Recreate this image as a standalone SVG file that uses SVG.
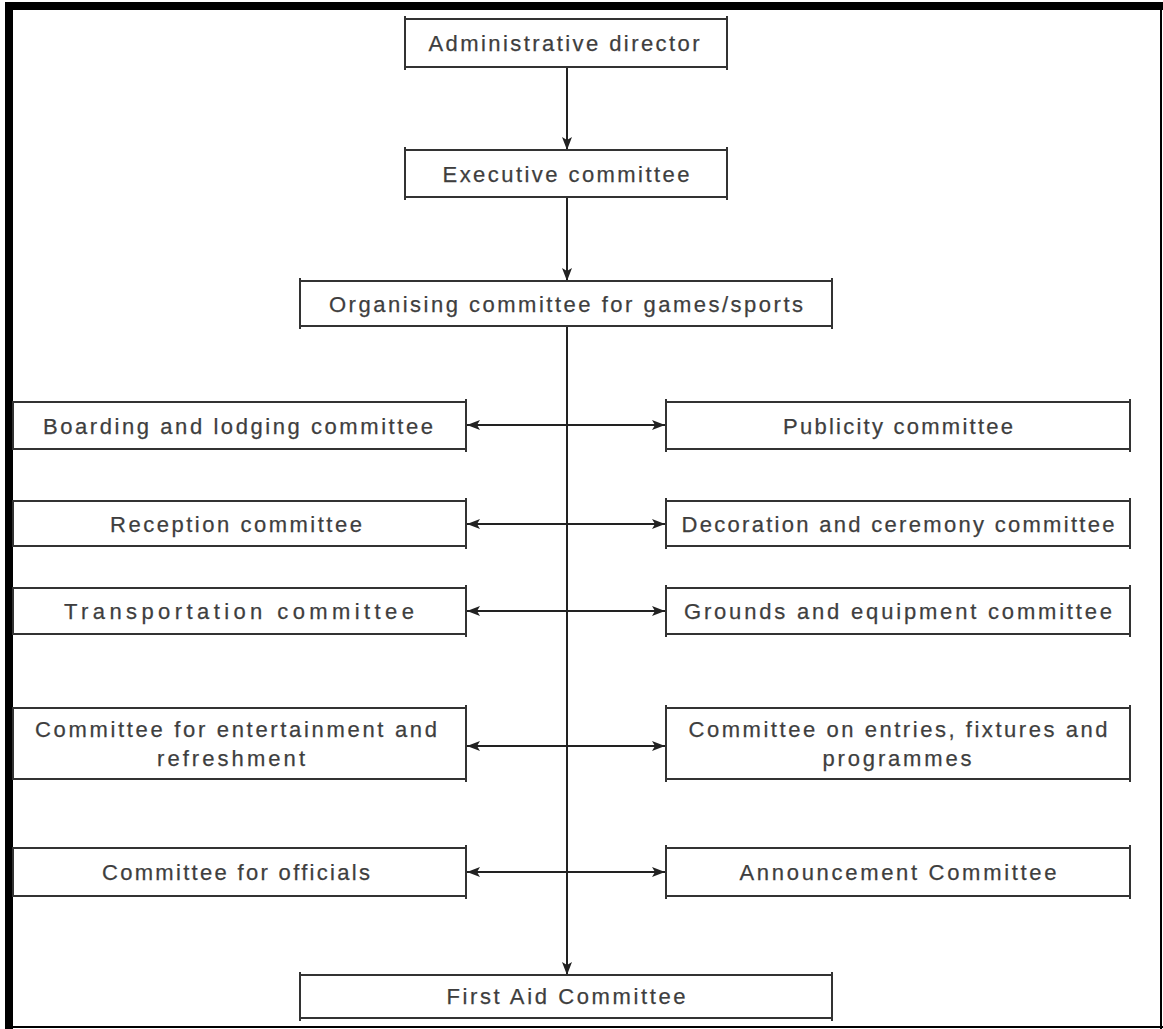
<svg xmlns="http://www.w3.org/2000/svg" width="1163" height="1029" viewBox="0 0 1163 1029">
<style>
.box{fill:#fff;stroke:#333;stroke-width:2}
.tk{fill:none;stroke:#333;stroke-width:2}
.t{font-family:"Liberation Sans",Arial,sans-serif;font-size:22px;fill:#3e3e3e;stroke:#3e3e3e;stroke-width:0.25;text-anchor:middle}
.con{stroke:#222;stroke-width:2;fill:none}
</style>
<defs>
<marker id="ah" viewBox="0 0 13 10" refX="13" refY="5" markerWidth="13" markerHeight="10" markerUnits="userSpaceOnUse" orient="auto-start-reverse">
<path d="M0,0 L13,5 L0,10 L3,5 Z" fill="#222"/>
</marker>
</defs>
<rect width="1163" height="1029" fill="#fff"/>
<g id="frame">
<rect x="5" y="2" width="1158" height="8" fill="#000"/>
<rect x="5" y="2" width="8" height="1027" fill="#000"/>
<rect x="1160" y="2" width="2" height="1027" fill="#000"/>
<rect x="5" y="1026" width="1158" height="2" fill="#000"/>
</g>
<g id="connectors">
<line class="con" x1="567" y1="67" x2="567" y2="150" marker-end="url(#ah)"/>
<line class="con" x1="567" y1="197" x2="567" y2="281" marker-end="url(#ah)"/>
<line class="con" x1="567" y1="326" x2="567" y2="975" marker-end="url(#ah)"/>
<line class="con" x1="467" y1="425" x2="665" y2="425" marker-start="url(#ah)" marker-end="url(#ah)"/>
<line class="con" x1="467" y1="524" x2="665" y2="524" marker-start="url(#ah)" marker-end="url(#ah)"/>
<line class="con" x1="467" y1="611" x2="665" y2="611" marker-start="url(#ah)" marker-end="url(#ah)"/>
<line class="con" x1="467" y1="746" x2="665" y2="746" marker-start="url(#ah)" marker-end="url(#ah)"/>
<line class="con" x1="467" y1="872" x2="665" y2="872" marker-start="url(#ah)" marker-end="url(#ah)"/>
</g>
<g id="admin-director">
<rect class="box" x="405" y="19" width="322" height="48"/>
<path class="tk" d="M405,16V70M727,16V70"/>
<text class="t" x="564" y="51" textLength="271" lengthAdjust="spacing">Administrative director</text>
</g>
<g id="executive-committee">
<rect class="box" x="405" y="150" width="322" height="47"/>
<path class="tk" d="M405,147V200M727,147V200"/>
<text class="t" x="566" y="182" textLength="247" lengthAdjust="spacing">Executive committee</text>
</g>
<g id="organising-committee">
<rect class="box" x="300" y="281" width="532" height="45"/>
<path class="tk" d="M300,278V329M832,278V329"/>
<text class="t" x="566" y="312" textLength="474" lengthAdjust="spacing">Organising committee for games/sports</text>
</g>
<g id="boarding-lodging">
<rect class="box" x="13" y="402" width="453" height="47"/>
<path class="tk" d="M466,399V452"/>
<text class="t" x="238" y="434" textLength="390" lengthAdjust="spacing">Boarding and lodging committee</text>
</g>
<g id="publicity">
<rect class="box" x="666" y="402" width="464" height="47"/>
<path class="tk" d="M666,399V452M1130,399V452"/>
<text class="t" x="898" y="434" textLength="230" lengthAdjust="spacing">Publicity committee</text>
</g>
<g id="reception">
<rect class="box" x="13" y="501" width="453" height="45"/>
<path class="tk" d="M466,498V549"/>
<text class="t" x="236" y="532" textLength="252" lengthAdjust="spacing">Reception committee</text>
</g>
<g id="decoration-ceremony">
<rect class="box" x="666" y="501" width="464" height="45"/>
<path class="tk" d="M666,498V549M1130,498V549"/>
<text class="t" x="898" y="532" textLength="433" lengthAdjust="spacing">Decoration and ceremony committee</text>
</g>
<g id="transportation">
<rect class="box" x="13" y="588" width="453" height="46"/>
<path class="tk" d="M466,585V637"/>
<text class="t" x="239" y="619" textLength="350" lengthAdjust="spacing">Transportation committee</text>
</g>
<g id="grounds-equipment">
<rect class="box" x="666" y="588" width="464" height="46"/>
<path class="tk" d="M666,585V637M1130,585V637"/>
<text class="t" x="898" y="619" textLength="428" lengthAdjust="spacing">Grounds and equipment committee</text>
</g>
<g id="entertainment-refreshment">
<rect class="box" x="13" y="708" width="453" height="71"/>
<path class="tk" d="M466,705V782"/>
<text class="t" x="236" y="737" textLength="402" lengthAdjust="spacing">Committee for entertainment and</text>
<text class="t" x="231" y="766" textLength="148" lengthAdjust="spacing">refreshment</text>
</g>
<g id="entries-fixtures">
<rect class="box" x="666" y="708" width="464" height="71"/>
<path class="tk" d="M666,705V782M1130,705V782"/>
<text class="t" x="898" y="737" textLength="419" lengthAdjust="spacing">Committee on entries, fixtures and</text>
<text class="t" x="897" y="766" textLength="149" lengthAdjust="spacing">programmes</text>
</g>
<g id="officials">
<rect class="box" x="13" y="848" width="453" height="48"/>
<path class="tk" d="M466,845V899"/>
<text class="t" x="236" y="880" textLength="268" lengthAdjust="spacing">Committee for officials</text>
</g>
<g id="announcement">
<rect class="box" x="666" y="848" width="464" height="48"/>
<path class="tk" d="M666,845V899M1130,845V899"/>
<text class="t" x="898" y="880" textLength="317" lengthAdjust="spacing">Announcement Committee</text>
</g>
<g id="first-aid">
<rect class="box" x="300" y="975" width="532" height="43"/>
<path class="tk" d="M300,972V1021M832,972V1021"/>
<text class="t" x="566" y="1004" textLength="239" lengthAdjust="spacing">First Aid Committee</text>
</g>
</svg>
